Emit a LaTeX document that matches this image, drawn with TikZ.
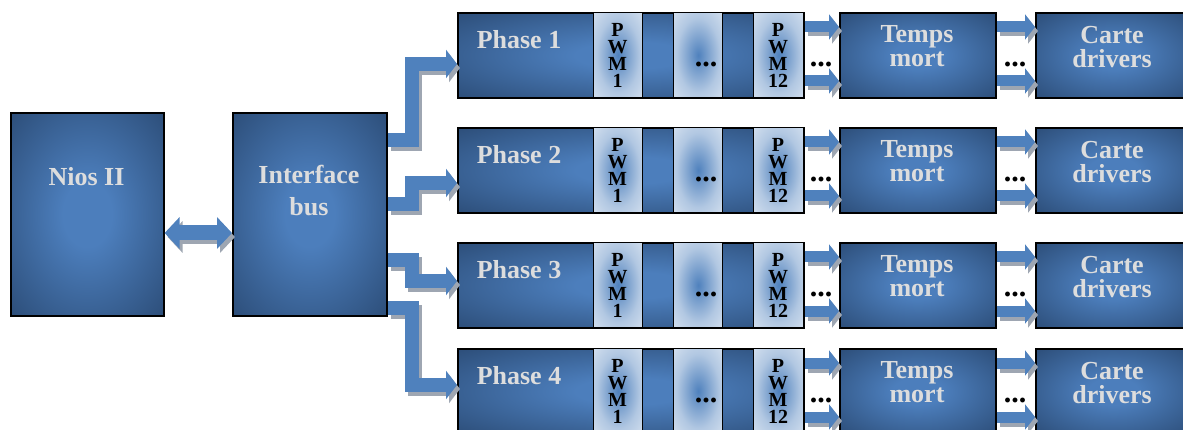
\documentclass[tikz,border=0pt]{standalone}
\usepackage{fontspec}
\setmainfont{Liberation Serif}
\usetikzlibrary{arrows.meta,calc}
\definecolor{boxedge}{HTML}{2C4D78}
\definecolor{boxmid}{HTML}{4C7EBC}
\definecolor{pwmout}{HTML}{DCE6F2}
\definecolor{pwmin}{HTML}{4F81BD}
\definecolor{arrowblue}{HTML}{4F81BD}
\definecolor{shadowgray}{HTML}{9EA6B2}
\definecolor{labelgray}{HTML}{DDDDDD}
\pgfdeclareradialshading{boxshade}{\pgfpoint{0bp}{0bp}}{color(0bp)=(boxmid); color(8bp)=(boxmid); color(36bp)=(boxedge); color(50bp)=(boxedge)}
\pgfdeclareradialshading{pwmshade}{\pgfpoint{0bp}{0bp}}{color(0bp)=(pwmin); color(22bp)=(pwmout!70!pwmin); color(40bp)=(pwmout); color(50bp)=(pwmout)}
\tikzset{
 darkbox/.style={draw=black, line width=1.6pt, shade, shading=boxshade, inner sep=0pt, anchor=north west},
 pwmbox/.style={draw=black, line width=1.4pt, shade, shading=pwmshade, inner sep=0pt, anchor=north west, minimum width=49pt, minimum height=85pt},
 bigtext/.style={text=labelgray, font=\fontsize{26}{24}\selectfont\bfseries, align=center, inner sep=0pt},
 bustext/.style={text=labelgray, font=\fontsize{26}{32}\selectfont\bfseries, align=center, inner sep=0pt},
 pwmtext/.style={text=black, font=\fontsize{20}{17}\selectfont\bfseries, align=center, inner sep=0pt},
 dotstext/.style={text=black, font=\fontsize{30}{24}\selectfont\bfseries, inner sep=0pt},
 fat/.style={draw=arrowblue, line width=14pt, line join=miter, arrows={-Triangle[length=11pt,width=28pt]}},
 fatshadow/.style={draw=shadowgray, line width=14pt, line join=miter, arrows={-Triangle[length=11pt,width=28pt]}, transform canvas={shift={(3pt,-4pt)}}},
 thin/.style={line width=11pt, arrows={-Triangle[length=10pt,width=25pt]}},
 both/.style={line width=15pt, arrows={Triangle[length=15pt,width=31pt]-Triangle[length=15pt,width=31pt]}},
}
\begin{document}
\begin{tikzpicture}[x=1pt,y=-1pt]
\clip (0,0) rectangle (1183,430);
\fill[white] (0,0) rectangle (1183,430);
% left blocks
\node[darkbox, minimum width=153pt, minimum height=203pt] (nios) at (10,112) {};
\node[darkbox, minimum width=154pt, minimum height=203pt] (bus) at (232,112) {};
\node[bigtext] (niost) at (86.5,177) {Nios II};
\node[bustext] (bust) at (309,191) {Interface\\bus};
% rows
\foreach \i/\T in {1/12,2/127,3/242,4/348}{
  \node[darkbox, minimum width=346pt, minimum height=85pt] (ph\i) at (457,\T) {};
  \node[pwmbox] (pa\i) at (593,\T) {};
  \node[pwmbox] (pb\i) at (673,\T) {};
  \node[pwmbox, minimum width=50pt] (pc\i) at (753,\T) {};
  \node[darkbox, minimum width=156pt, minimum height=85pt] (tm\i) at (839,\T) {};
  \node[darkbox, minimum width=155pt, minimum height=85pt] (cd\i) at (1035,\T) {};
  \node[bigtext] (pht\i) at (519,\T+28) {Phase \i};
  \node[pwmtext] (pat\i) at (617.5,\T+43) {P\\W\\M\\1};
  \node[pwmtext] (pct\i) at (778,\T+43) {P\\W\\M\\12};
  \node[dotstext] (pbt\i) at (706,\T+52) {...};
  \node[bigtext] (tmt\i) at (917,\T+34) {Temps\\mort};
  \node[bigtext] (cdt\i) at (1112,\T+35) {Carte\\drivers};
  \node[dotstext] (d1\i) at (821,\T+52) {...};
  \node[dotstext] (d2\i) at (1015,\T+52) {...};
  \foreach \o in {15,69}{
    \draw[fatshadow, thin] ($(ph\i.north east)+(0,\o)$) -- ($(tm\i.north west)+(0,\o)$);
    \draw[fat, thin] ($(ph\i.north east)+(0,\o)$) -- ($(tm\i.north west)+(0,\o)$);
    \draw[fatshadow, thin] ($(tm\i.north east)+(0,\o)$) -- ($(cd\i.north west)+(0,\o)$);
    \draw[fat, thin] ($(tm\i.north east)+(0,\o)$) -- ($(cd\i.north west)+(0,\o)$);
  }
}
% Nios <-> bus
\draw[fatshadow, both] ($(nios.north east)+(0,121)$) -- ($(bus.north west)+(0,121)$);
\draw[fat, both] ($(nios.north east)+(0,121)$) -- ($(bus.north west)+(0,121)$);
% bus -> phases
\foreach \i/\a/\b in {1/28/52,2/92/56,3/148/39,4/196/37}{
  \draw[fatshadow] ($(bus.north east)+(0,\a)$) -| ($(ph\i.north west)+(-45,\b)$) -- ($(ph\i.north west)+(0,\b)$);
}
\foreach \i/\a/\b in {1/28/52,2/92/56,3/148/39,4/196/37}{
  \draw[fat] ($(bus.north east)+(0,\a)$) -| ($(ph\i.north west)+(-45,\b)$) -- ($(ph\i.north west)+(0,\b)$);
}
\end{tikzpicture}
\end{document}
